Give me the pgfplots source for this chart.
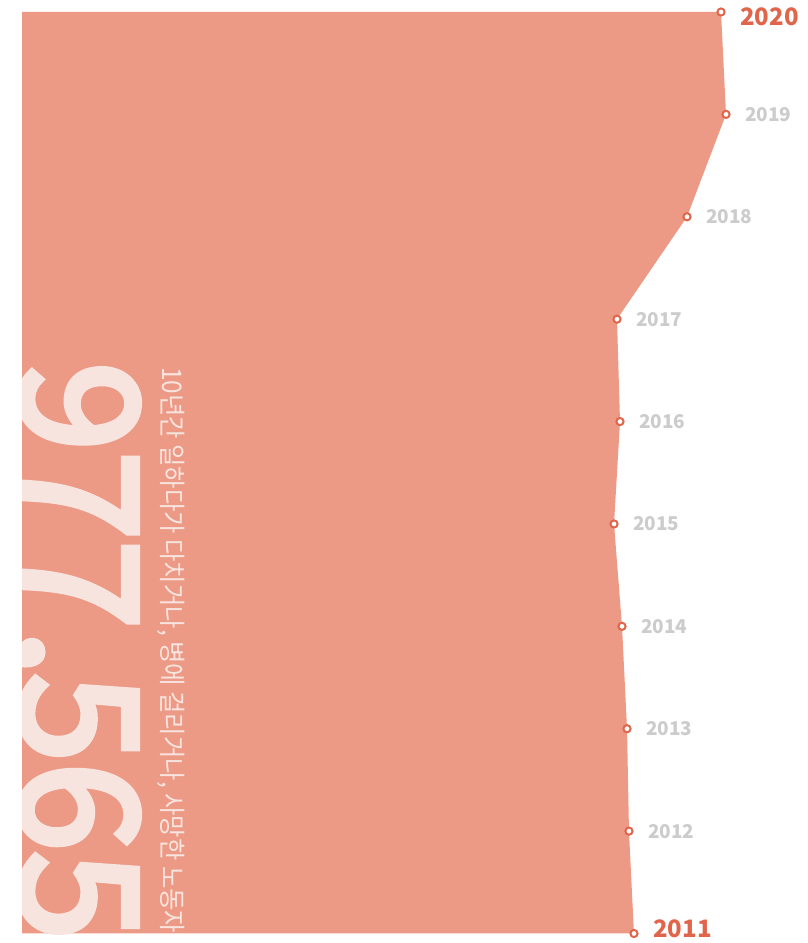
\documentclass[border=0pt]{standalone}
\usepackage{pgfplots}
\pgfplotsset{compat=1.18}
\usepackage{fontspec}
\usepackage{graphicx}
\setmainfont{Noto Sans CJK KR}
\newfontfamily\bigfont[FakeBold=4]{Noto Sans CJK KR}
\definecolor{areac}{RGB}{236,154,134}
\definecolor{orng}{RGB}{224,101,74}
\definecolor{grayt}{RGB}{204,204,204}
\definecolor{pale}{RGB}{248,228,222}
\pgfplotstableread{
x y label
94.15 2011 2011
93.38 2012 2012
93.08 2013 2013
92.31 2014 2014
91.08 2015 2015
92.00 2016 2016
91.54 2017 2017
102.31 2018 2018
108.31 2019 2019
107.54 2020 2020
}\datatable
\pgfplotsset{myaxis/.style={at={(22pt,9.5pt)}, anchor=south west, scale only axis,
  width=780pt, height=921.5pt, xmin=0, xmax=120, ymin=2011, ymax=2020,
  axis lines=none, clip=false}}
\begin{document}
\begin{tikzpicture}[x=1pt,y=1pt]
\useasboundingbox (0,0) rectangle (807,943);
\begin{axis}[myaxis]
\addplot[fill=areac, draw=none] coordinates {(0,2011) (94.15,2011) (93.38,2012) (93.08,2013) (92.31,2014) (91.08,2015) (92.00,2016) (91.54,2017) (102.31,2018) (108.31,2019) (107.54,2020) (0,2020)} -- cycle;
\end{axis}
\begin{scope}
\clip (22,0) rectangle (807,943);
\node[rotate=-90, anchor=base west, inner sep=0pt, text=pale, font=\fontsize{161}{161}\bigfont] at (22,581) {\resizebox{578pt}{\height}{977,565}};
\node[rotate=-90, anchor=base west, inner sep=0pt, text=pale, font=\fontsize{27}{27}\selectfont] at (162,576) {\resizebox{566pt}{\height}{10년간 일하다가 다치거나, 병에 걸리거나, 사망한 노동자}};
\end{scope}
\begin{axis}[myaxis]
\addplot[draw=none, point meta=explicit symbolic, nodes near coords, nodes near coords align={anchor=west},
  every node near coord/.append style={xshift=19pt, text=grayt, inner sep=0pt, font=\fontsize{19}{19}\selectfont\bfseries}]
  table[x=x, y=y, meta=label] {
x y label
93.38 2012 2012
93.08 2013 2013
92.31 2014 2014
91.08 2015 2015
92.00 2016 2016
91.54 2017 2017
102.31 2018 2018
108.31 2019 2019
};
\addplot[draw=none, point meta=explicit symbolic, nodes near coords, nodes near coords align={anchor=west},
  every node near coord/.append style={xshift=19pt, yshift=-5pt, text=orng, inner sep=0pt, font=\fontsize{24}{24}\selectfont\bfseries}]
  table[x=x, y=y, meta=label] {
x y label
107.54 2020 2020
};
\addplot[draw=none, point meta=explicit symbolic, nodes near coords, nodes near coords align={anchor=west},
  every node near coord/.append style={xshift=19pt, yshift=4.5pt, text=orng, inner sep=0pt, font=\fontsize{24}{24}\selectfont\bfseries}]
  table[x=x, y=y, meta=label] {
x y label
94.15 2011 2011
};
\addplot[only marks, mark=*, mark size=3.6pt, mark options={fill=white, draw=orng, line width=2pt}] table[x=x, y=y] {\datatable};
\end{axis}
\end{tikzpicture}
\end{document}
